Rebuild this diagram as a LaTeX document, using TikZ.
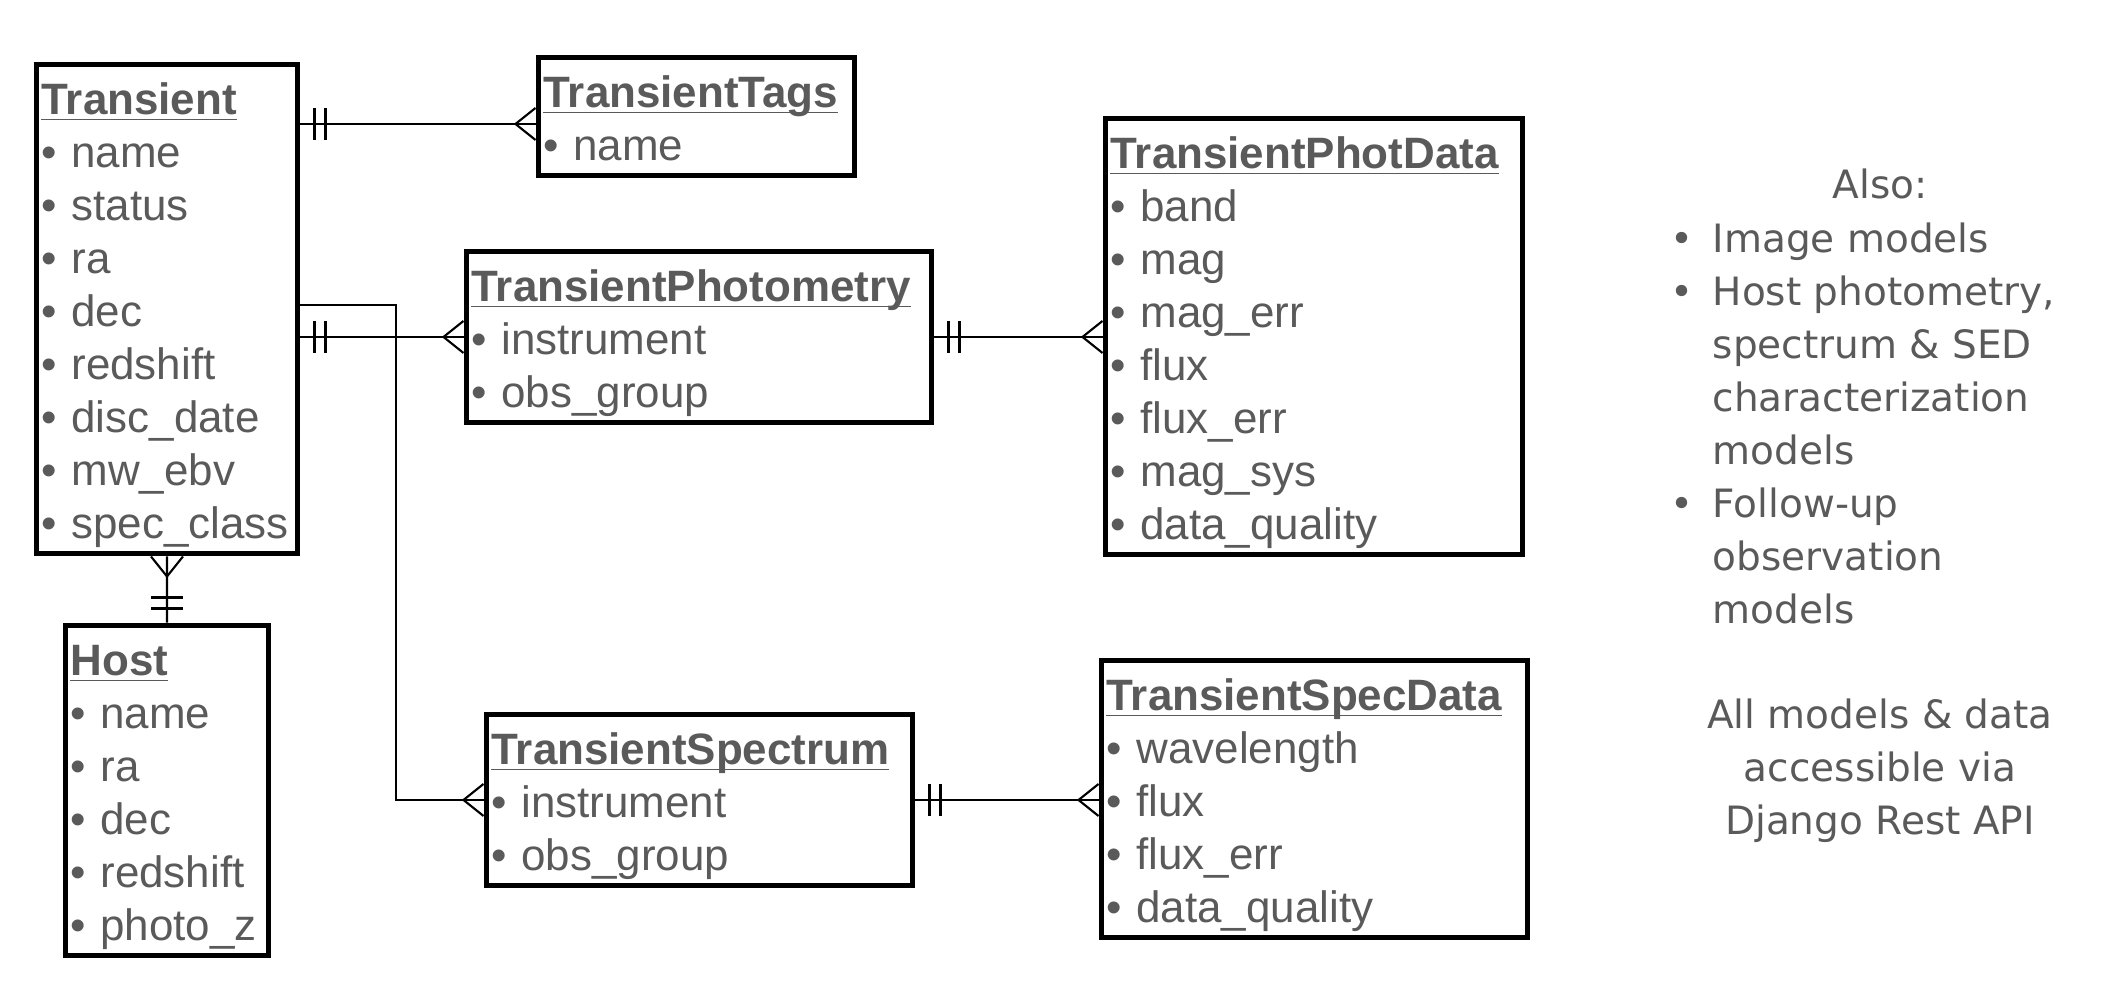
\documentclass[tikz,border=0pt]{standalone}
\usepackage{fontspec}
\setmainfont{Liberation Sans}
\newfontfamily\notefont{DejaVu Sans}
\usetikzlibrary{positioning}
\usetikzlibrary{calc}
\definecolor{txtgray}{HTML}{5A5A5A}

\newsavebox{\ttlbox}
\newcommand{\ttl}[1]{\rule{0pt}{0.50cm}\sbox{\ttlbox}{\textbf{#1}}\usebox{\ttlbox}\llap{\rule[-0.06cm]{\wd\ttlbox}{0.55pt}}}
\newcommand{\fld}[1]{\textbullet~#1}
\newcommand{\lst}[1]{\textbullet~#1\rule[-0.15cm]{0pt}{0.15cm}}

\tikzset{
	entity/.style={draw,rectangle,line width=1.7pt,anchor=north west,align=left,
		inner xsep=0.05cm,inner ysep=0pt,text=txtgray,
		font=\fontsize{12.5pt}{0.53cm}\selectfont},
	link/.style={draw,line width=0.6pt},
	note/.style={text=txtgray,inner sep=0pt,
		font=\notefont\fontsize{11.1pt}{0.53cm}\selectfont},
	many/.pic={\draw[link] (0.2,0) -- (0,0.16) (0.2,0) -- (0,-0.16);},
	onlyone/.pic={\draw[link] (0.14,-0.16) -- (0.14,0.16) (0.25,-0.16) -- (0.25,0.16);}
}

\begin{document}
\begin{tikzpicture}
	\useasboundingbox (0,0) rectangle (21.06,-9.84);
	% tables
	\node (trans) [entity,text width=2.51cm] at (0.335,-0.615) {\ttl{Transient}\\ \fld{name}\\ \fld{status}\\ \fld{ra}\\ \fld{dec}\\ \fld{redshift}\\ \fld{disc\_date}\\ \fld{mw\_ebv}\\ \lst{spec\_class}};
	\node (tags) [entity,text width=3.06cm] at (5.355,-0.545) {\ttl{TransientTags}\\ \lst{name}};
	\node (phot) [entity,text width=4.55cm] at (4.635,-2.485) {\ttl{TransientPhotometry}\\ \fld{instrument}\\ \lst{obs\_group}};
	\node (photdata) [entity,text width=4.07cm] at (11.025,-1.155) {\ttl{TransientPhotData}\\ \fld{band}\\ \fld{mag}\\ \fld{mag\_err}\\ \fld{flux}\\ \fld{flux\_err}\\ \fld{mag\_sys}\\ \lst{data\_quality}};
	\node (host) [entity,text width=1.93cm] at (0.625,-6.225) {\ttl{Host}\\ \fld{name}\\ \fld{ra}\\ \fld{dec}\\ \fld{redshift}\\ \lst{photo\_z}};
	\node (spec) [entity,text width=4.16cm] at (4.835,-7.115) {\ttl{TransientSpectrum}\\ \fld{instrument}\\ \lst{obs\_group}};
	\node (specdata) [entity,text width=4.16cm] at (10.985,-6.575) {\ttl{TransientSpecData}\\ \fld{wavelength}\\ \fld{flux}\\ \fld{flux\_err}\\ \lst{data\_quality}};

	% relations
	\coordinate (tagsin) at ([yshift=-0.075cm]tags.west);
	\draw[link] (trans.east |- tagsin) -- (tagsin);
	\pic at (trans.east |- tagsin) {onlyone};
	\pic[rotate=180] at (tagsin) {many};

	\draw[link] (trans.east |- phot.west) -- (phot.west);
	\pic at (trans.east |- phot.west) {onlyone};
	\pic[rotate=180] at (phot.west) {many};

	\coordinate (split) at (3.96,-3.05);
	\draw[link] (trans.east |- split) -- (split) |- (spec.west);
	\pic[rotate=180] at (spec.west) {many};

	\draw[link] (phot.east) -- (photdata.west |- phot.east);
	\pic at (phot.east) {onlyone};
	\pic[rotate=180] at (photdata.west |- phot.east) {many};

	\draw[link] (spec.east) -- (specdata.west |- spec.east);
	\pic at (spec.east) {onlyone};
	\pic[rotate=180] at (specdata.west |- spec.east) {many};

	\draw[link] (trans.south) -- (host.north);
	\pic[rotate=-90] at (trans.south) {many};
	\pic[rotate=90] at (host.north) {onlyone};

	% side notes
	\node (also) [note,anchor=base] at (18.80,-1.98) {Also:};
	\node (more) [note,anchor=base west] at (16.70,-2.52) {\begin{tabular}[t]{@{}p{0.42cm}@{}l@{}}
		\textbullet & Image models\\
		\textbullet & Host photometry,\\
		& spectrum \& SED\\
		& characterization\\
		& models\\
		\textbullet & Follow-up\\
		& observation\\
		& models
	\end{tabular}};
	\node (api) [note,align=center,anchor=north] at (18.80,-6.98) {All models \& data\\accessible via\\Django Rest API};
\end{tikzpicture}
\end{document}
